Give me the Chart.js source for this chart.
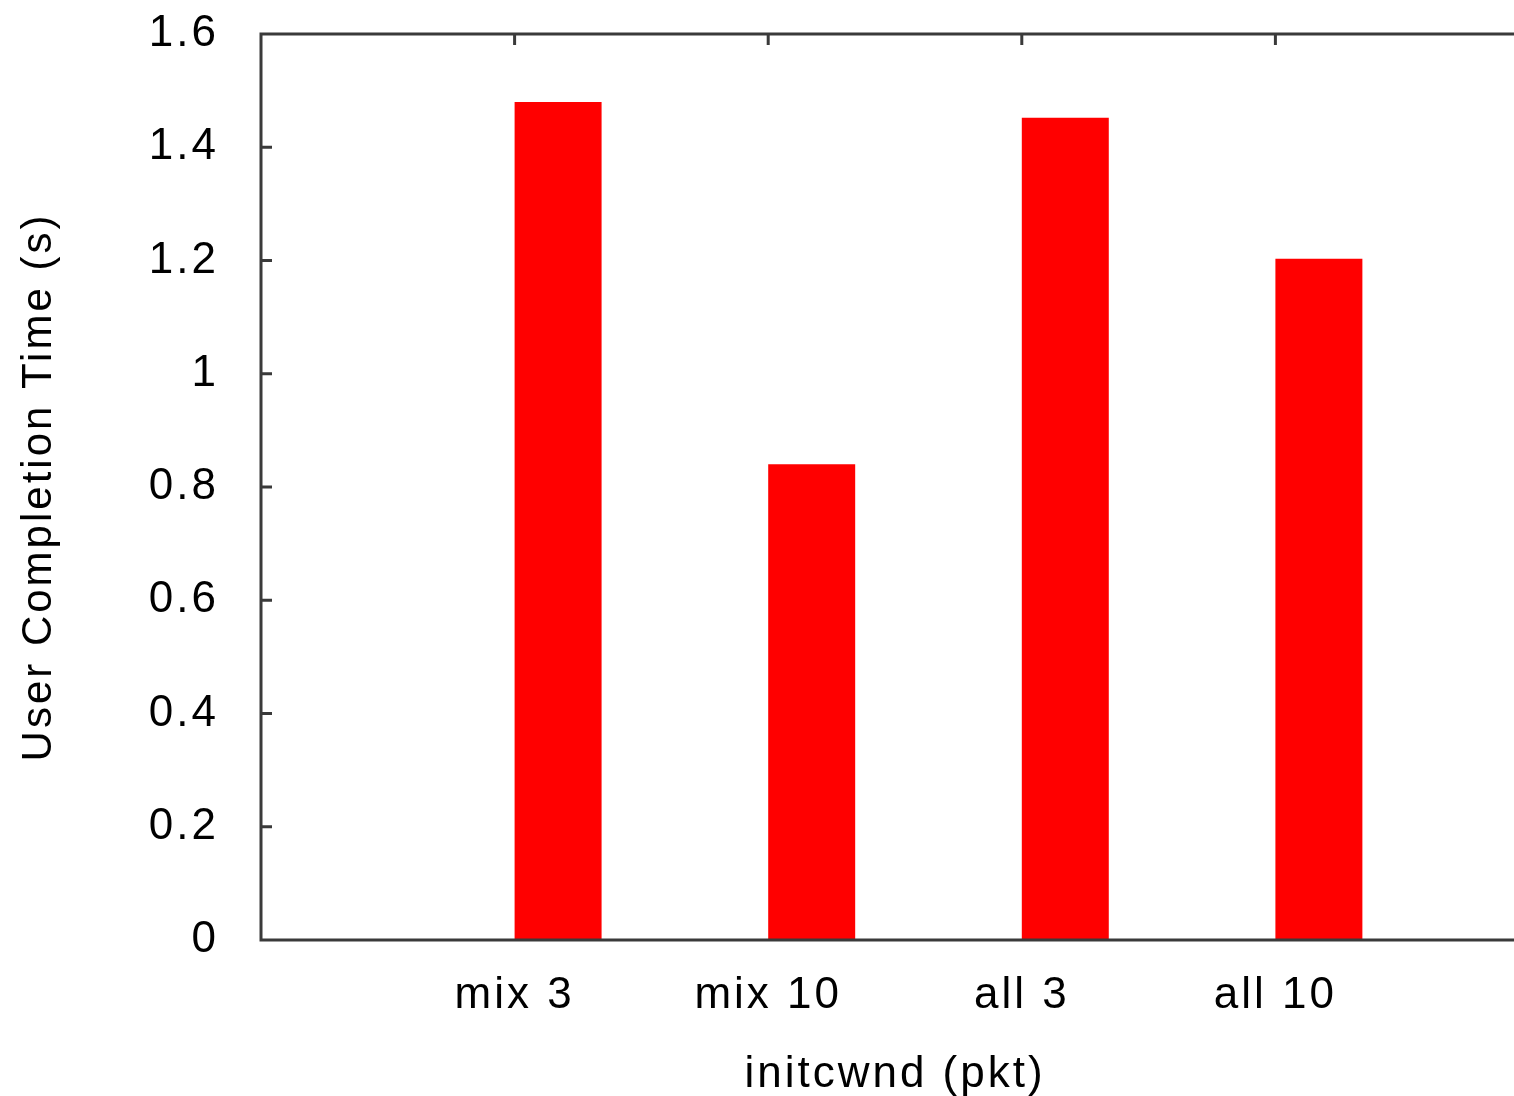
<!DOCTYPE html>
<html>
<head>
<meta charset="utf-8">
<script src="https://cdn.jsdelivr.net/npm/chart.js@4"></script>
<style>
  html, body { margin: 0; padding: 0; background: #fff; overflow: hidden; }
  #wrap { width: 1514px; height: 1096px; overflow: hidden; }
</style>
</head>
<body>
<div id="wrap"><canvas id="uctChart" width="1530" height="1096"></canvas></div>
<script>
// categories (empty slots at both ends keep the gnuplot-like padding)
const categories = ["", "mix 3", "mix 10", "all 3", "all 10", ""];
const completionTime = [null, 1.48, 0.84, 1.452, 1.203, null];
const spacer = [null, null, null, null, null, null];
const yTicks = [0, 0.2, 0.4, 0.6, 0.8, 1, 1.2, 1.4, 1.6];

const FONT = "'Liberation Sans', Arial, sans-serif";
const AXIS_COLOR = "#3a3a3a";

// gnuplot text is spaced out a bit
const spacingPlugin = {
    id: "spacing",
    beforeDraw(chart) {
        chart.ctx.letterSpacing = "3px";
    }
};

// frame + inward tick marks, gnuplot style
const framePlugin = {
    id: "frame",
    afterDatasetsDraw(chart) {
        const ctx = chart.ctx;
        const a = chart.chartArea;
        const x = chart.scales.x, y = chart.scales.y;
        ctx.save();
        ctx.strokeStyle = AXIS_COLOR;
        ctx.lineWidth = 3;
        ctx.beginPath();
        ctx.moveTo(a.right + 5, a.top);
        ctx.lineTo(a.left, a.top);
        ctx.lineTo(a.left, a.bottom);
        ctx.lineTo(a.right + 5, a.bottom);
        ctx.stroke();

        ctx.beginPath();
        categories.forEach((c, i) => {
            if (!c) return;
            const px = x.getPixelForValue(i);
            ctx.moveTo(px, a.top);
            ctx.lineTo(px, a.top + 11);
        });
        yTicks.forEach(v => {
            if (v === 0 || v === 1.6) return;
            const py = y.getPixelForValue(v);
            ctx.moveTo(a.left, py);
            ctx.lineTo(a.left + 11, py);
        });
        ctx.stroke();
        ctx.restore();
    }
};

new Chart(document.getElementById("uctChart"), {
    type: "bar",
    data: {
        labels: categories,
        datasets: [
            { label: "spacer", data: spacer, backgroundColor: "rgba(0,0,0,0)" },
            { label: "User Completion Time", data: completionTime, backgroundColor: "#ff0000" }
        ]
    },
    options: {
        responsive: false,
        animation: false,
        devicePixelRatio: 1,
        layout: { padding: { top: 34, right: 1, left: 0, bottom: 0 } },
        categoryPercentage: 0.686,
        barPercentage: 1.0,
        plugins: {
            legend: { display: false },
            tooltip: { enabled: false }
        },
        scales: {
            x: {
                type: "category",
                offset: false,
                grid: { display: false, drawTicks: false },
                border: { display: false },
                ticks: {
                    color: "#000",
                    font: { family: FONT, size: 44 },
                    padding: 29,
                    maxRotation: 0,
                    autoSkip: false
                },
                title: {
                    display: true,
                    text: "initcwnd (pkt)",
                    color: "#000",
                    font: { family: FONT, size: 44 },
                    padding: { top: 0, bottom: -5 }
                },
                afterFit(scale) {
                    scale.height = 156;
                    scale.paddingLeft = 0;
                    scale.paddingRight = 0;
                }
            },
            y: {
                min: 0,
                max: 1.6,
                grid: { display: false, drawTicks: false },
                border: { display: false },
                afterBuildTicks(scale) {
                    scale.ticks = yTicks.map(v => ({ value: v }));
                },
                ticks: {
                    color: "#000",
                    font: { family: FONT, size: 44 },
                    padding: 42,
                    callback: v => String(v)
                },
                title: {
                    display: true,
                    text: "User Completion Time (s)",
                    color: "#000",
                    font: { family: FONT, size: 42 },
                    padding: { top: 14, bottom: 0 }
                },
                afterFit(scale) {
                    scale.width = 261;
                    scale.paddingTop = 0;
                    scale.paddingBottom = 0;
                }
            }
        }
    },
    plugins: [spacingPlugin, framePlugin]
});
</script>
</body>
</html>
